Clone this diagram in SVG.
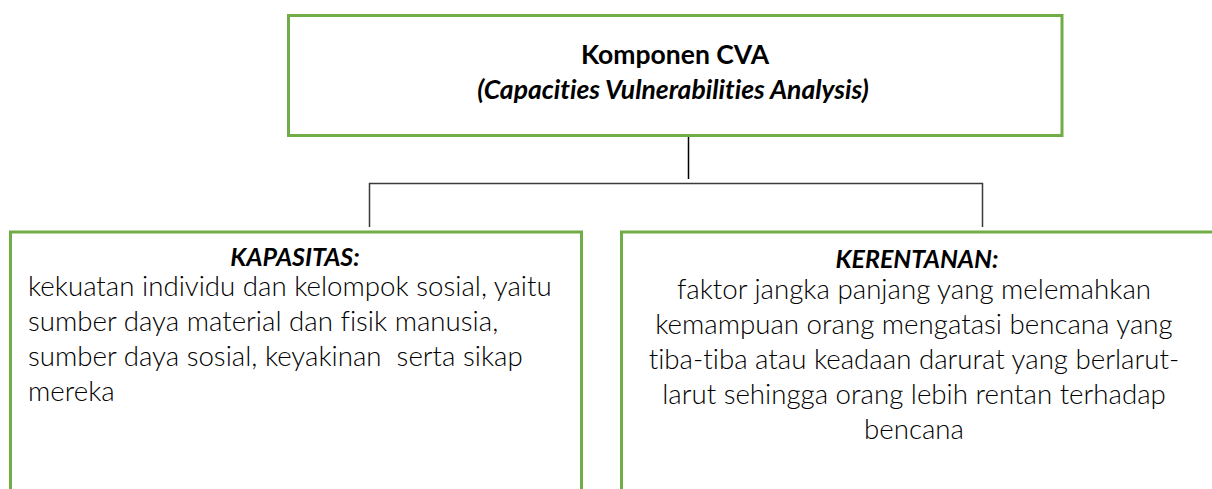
<svg xmlns="http://www.w3.org/2000/svg" width="1212" height="489" viewBox="0 0 1212 489">
  <style>
    text { font-family: Lato, "Liberation Sans", sans-serif; fill: #000000; font-variant-ligatures: none; }
    .box { fill: #ffffff; stroke: #70AD47; stroke-width: 3; }
    .link { fill: none; stroke: #3a3a3a; stroke-width: 1.5; }
    .title { font-weight: 700; font-size: 26.5px; }
    .sub { font-weight: 700; font-style: italic; font-size: 26.5px; }
    .head { font-weight: 700; font-style: italic; font-size: 25px; }
    .body { font-weight: 300; font-size: 27.7px; }
  </style>
  <rect x="0" y="0" width="1212" height="489" fill="#ffffff"/>

  <!-- connectors -->
  <g id="connectors">
    <line class="link" x1="688.5" y1="137" x2="688.5" y2="179" style="stroke:#000000"/>
    <polyline class="link" points="369.5,227 369.5,183.5 982.5,183.5 982.5,227"/>
  </g>

  <!-- root node -->
  <g id="node-cva">
    <rect class="box" x="288.5" y="15.5" width="773.5" height="120"/>
    <text class="title" x="675" y="64" text-anchor="middle">Komponen CVA</text>
    <text class="sub" x="673" y="99" text-anchor="middle">(Capacities Vulnerabilities Analysis)</text>
  </g>

  <!-- capacity node -->
  <g id="node-kapasitas">
    <rect class="box" x="10.5" y="232" width="571" height="300"/>
    <text class="head" x="295" y="266" text-anchor="middle">KAPASITAS:</text>
    <text class="body" x="28" y="296">kekuatan individu dan kelompok sosial, yaitu</text>
    <text class="body" x="28" y="331">sumber daya material dan fisik manusia,</text>
    <text class="body" x="28" y="366" xml:space="preserve">sumber daya sosial, keyakinan  serta sikap</text>
    <text class="body" x="28" y="401">mereka</text>
  </g>

  <!-- vulnerability node -->
  <g id="node-kerentanan">
    <rect class="box" x="621.5" y="232" width="700" height="300"/>
    <text class="head" x="917" y="268" text-anchor="middle">KERENTANAN:</text>
    <text class="body" x="914" y="299" text-anchor="middle">faktor jangka panjang yang melemahkan</text>
    <text class="body" x="914" y="334" text-anchor="middle">kemampuan orang mengatasi bencana yang</text>
    <text class="body" x="914" y="369" text-anchor="middle">tiba-tiba atau keadaan darurat yang berlarut-</text>
    <text class="body" x="914" y="404" text-anchor="middle">larut sehingga orang lebih rentan terhadap</text>
    <text class="body" x="914" y="439" text-anchor="middle">bencana</text>
  </g>
</svg>
